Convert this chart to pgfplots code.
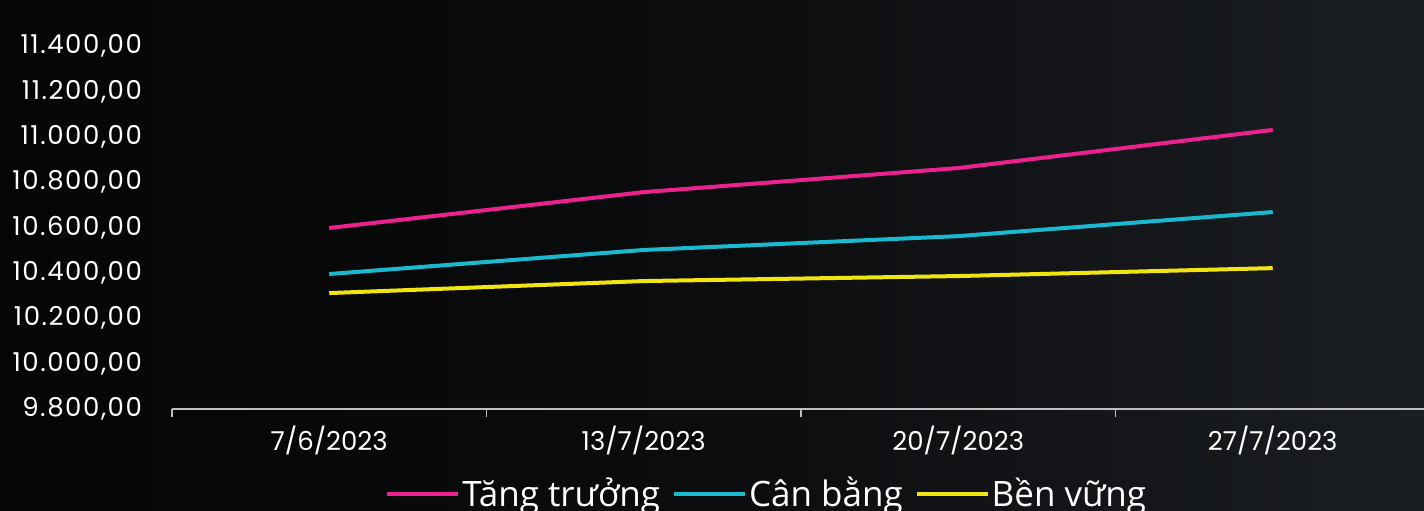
\documentclass[border=0pt]{standalone}
\usepackage{fontspec}
\setmainfont{Poppins}
\newfontfamily\ytickfont{Poppins}[LetterSpace=6]
\newfontfamily\legendfont{Open Sans}
\usepackage{pgfplots}
\pgfplotsset{compat=1.18}
\definecolor{cpink}{HTML}{EC2190}
\definecolor{ccyan}{HTML}{19B9CF}
\definecolor{cyel}{HTML}{F2E40F}
\definecolor{bgl}{HTML}{050505}
\definecolor{bgr}{HTML}{1A1D22}
\definecolor{axgray}{HTML}{BFBFBF}
\begin{document}
\begin{tikzpicture}
\useasboundingbox (-86pt,-50.5pt) rectangle (626pt,204.5pt);
\fill[left color=bgl, right color=bgr, middle color=bgl!70!bgr] (-86pt,-50.5pt) rectangle (626pt,204.5pt);
\begin{axis}[
  scale only axis,
  width=626pt, height=181.5pt,
  xmin=-0.5, xmax=3.481,
  ymin=9800, ymax=11400,
  axis lines*=left,
  x axis line style={axgray, line width=0.8pt},
  y axis line style={draw=none},
  xtick={0,1,2,3},
  xticklabels={7/6/2023,13/7/2023,20/7/2023,27/7/2023},
  major tick length=0pt,
  extra x ticks={-0.5,0.5,1.5,2.5},
  extra x tick labels={},
  extra x tick style={major tick length=4pt, tick align=outside, tick style={axgray, line width=0.8pt}},
  ytick={9800,10000,...,11400},
  ytick style={draw=none},
  yticklabel style={/pgf/number format/fixed, /pgf/number format/fixed zerofill, /pgf/number format/precision=2, /pgf/number format/1000 sep={.}, /pgf/number format/dec sep={,}, /pgf/number format/assume math mode=true, xshift=-11.5pt, font=\ytickfont\fontsize{13}{15}\selectfont},
  scaled y ticks=false,
  xticklabel style={yshift=-5pt, font=\fontsize{13}{15}\selectfont},
  tick label style={text=white},
  legend columns=-1,
  legend style={at={(0.475,-0.233)}, anchor=center, draw=none, fill=none, text=white,
    font=\legendfont\fontsize{17.5}{19}\selectfont,
    /tikz/every odd column/.style={column sep=0pt},
    /tikz/every even column/.style={column sep=5pt},
    nodes={inner sep=1pt}},
  legend image code/.code={\draw[#1, line width=2pt] (0pt,0pt) -- (35.5pt,0pt);},
  every axis plot/.append style={line width=2pt},
]
\addplot[cpink] coordinates {(0,10598) (1,10756) (2,10862) (3,11030)};
\addlegendentry{Tăng trưởng}
\addplot[ccyan] coordinates {(0,10395) (1,10501) (2,10562) (3,10668)};
\addlegendentry{Cân bằng}
\addplot[cyel] coordinates {(0,10311) (1,10364) (2,10386) (3,10421)};
\addlegendentry{Bền vững}
\end{axis}
\end{tikzpicture}
\end{document}
